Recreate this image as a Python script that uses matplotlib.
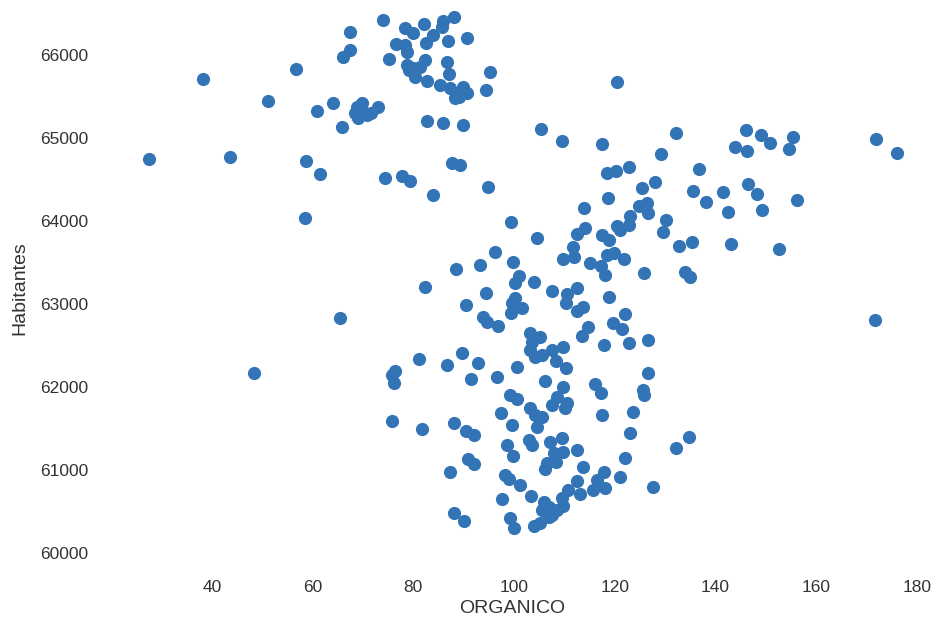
import numpy as np
import matplotlib
matplotlib.use("Agg")
import matplotlib.pyplot as plt

# ORGANICO vs Habitantes
organico = [
    27.5, 38.2, 43.7, 51.2, 56.8, 58.8, 61.5, 60.9, 64.1, 65.8,
    67.4, 67.4, 66.1, 68.8, 69.8, 68.4, 69.1, 70.8, 71.7, 73.1,
    70.1, 73.9, 78.4, 80.0, 82.1, 85.9, 88.0, 85.7, 84.0, 82.5,
    87.0, 90.6, 76.6, 78.4, 78.8, 75.1, 78.7, 79.2, 80.0, 80.4,
    81.4, 82.4, 82.8, 86.8, 87.2, 85.4, 87.3, 88.3, 89.9, 90.6,
    89.0, 89.6, 95.3, 94.5, 82.8, 85.9, 89.9, 87.6, 89.2, 74.4,
    77.7, 79.4, 84.0, 94.9, 120.5,
    105.4, 109.5, 117.5, 118.5, 120.3, 122.8, 125.4, 118.7, 114.0, 124.8,
    126.4, 126.7, 123.1, 122.8, 120.5, 121.0, 99.4, 114.2, 112.5, 104.6,
    117.5, 118.8, 111.8, 112.0, 109.8, 96.3, 99.9, 118.5, 119.8, 121.8,
    115.1, 117.3, 93.3,
    88.5, 82.3, 94.5, 90.5, 93.8, 94.7, 81.2, 86.7, 89.6, 92.8,
    91.5, 76.4, 75.7, 76.2, 75.7, 81.7, 88.0, 90.5, 92.0, 90.8,
    92.0, 87.3, 88.0, 90.0, 48.3, 58.5, 65.4,
    118.1, 125.8, 101.1, 100.2, 103.9, 107.5, 112.5, 110.6, 110.4, 118.8,
    113.8, 112.5, 100.2, 99.6, 101.6, 99.4, 122.1, 96.9, 119.7, 121.5,
    103.2, 105.1, 103.6, 114.8, 113.5, 117.8, 122.8, 126.7, 103.2, 104.2,
    105.5, 107.5, 109.7, 108.4, 110.4, 100.6, 96.6, 106.1, 116.1, 117.3,
    109.8, 125.7, 126.7, 99.2, 100.6, 108.5, 107.5, 110.6, 103.2, 125.9,
    104.2, 105.5, 104.6, 110.2, 97.4, 99.6, 117.5, 123.6, 123.0, 98.6,
    99.9, 102.9, 103.6, 107.2, 109.5, 107.9, 109.8, 112.5, 106.5, 106.2,
    108.4, 122.1, 113.8, 98.3, 99.1, 101.3, 112.5, 117.8, 116.5, 118.0,
    121.0, 115.7, 110.8, 109.5, 113.2, 103.3, 97.6, 105.9, 106.9, 105.5,
    107.5, 109.8, 108.5, 99.2, 100.0, 103.9, 105.2, 106.9, 127.7,
    132.2, 129.3, 146.0, 149.0, 150.8, 144.0, 146.3, 155.4, 154.6, 136.7,
    128.1, 135.5, 141.5, 146.4, 148.3, 138.1, 142.5, 149.3, 156.2, 130.3,
    129.7, 135.3, 132.8, 143.2, 152.6, 134.0, 135.0, 134.7, 132.2,
    172.0, 176.0, 171.8,
]

habitantes = [
    64747, 65715, 64775, 65450, 65835, 64723, 64562, 65330, 65425, 65136,
    66273, 66060, 65980, 65377, 65418, 65297, 65237, 65277, 65297, 65377,
    65317, 66422, 66322, 66265, 66374, 66413, 66454, 66341, 66241, 66148,
    66172, 66201, 66132, 66120, 66040, 65955, 65880, 65819, 65839, 65738,
    65859, 65940, 65690, 65919, 65771, 65638, 65598, 65478, 65618, 65538,
    65498, 65558, 65792, 65578, 65208, 65184, 65156, 64702, 64674, 64514,
    64542, 64485, 64313, 64413, 65675,
    65108, 64964, 64924, 64582, 64606, 64654, 64394, 64273, 64153, 64180,
    64213, 64093, 64060, 63952, 63940, 63891, 63984, 63919, 63843, 63799,
    63831, 63771, 63690, 63570, 63538, 63630, 63509, 63590, 63618, 63538,
    63490, 63458, 63470,
    63418, 63201, 63137, 62991, 62847, 62786, 62333, 62265, 62405, 62285,
    62096, 62196, 62144, 62051, 61593, 61493, 61562, 61473, 61421, 61128,
    61072, 60979, 60477, 60385, 62168, 64036, 62831,
    63349, 63370, 63337, 63249, 63268, 63160, 63189, 63120, 63008, 63088,
    62967, 62919, 63068, 63008, 62948, 62895, 62879, 62735, 62767, 62695,
    62654, 62598, 62545, 62726, 62614, 62506, 62526, 62566, 62445, 62365,
    62385, 62445, 62478, 62316, 62225, 62245, 62124, 62076, 62036, 61931,
    61996, 61963, 62164, 61903, 61851, 61883, 61783, 61803, 61743, 61903,
    61662, 61642, 61521, 61743, 61683, 61542, 61662, 61702, 61449, 61301,
    61168, 61361, 61301, 61333, 61381, 61200, 61220, 61240, 61080, 61008,
    61100, 61148, 61040, 60939, 60887, 60818, 60870, 60979, 60879, 60779,
    60911, 60759, 60759, 60658, 60706, 60686, 60646, 60618, 60558, 60518,
    60457, 60565, 60518, 60417, 60297, 60324, 60357, 60437, 60796,
    65064, 64803, 65096, 65036, 64943, 64895, 64847, 65016, 64867, 64626,
    64474, 64365, 64345, 64442, 64321, 64225, 64104, 64132, 64253, 64012,
    63864, 63750, 63702, 63722, 63659, 63389, 63329, 61401, 61261,
    64988, 64819, 62803,
]

x_ticks = [40, 60, 80, 100, 120, 140, 160, 180]
y_ticks = [60000, 61000, 62000, 63000, 64000, 65000, 66000]

plt.rcParams['font.family'] = ['Liberation Sans', 'DejaVu Sans']

fig = plt.figure(figsize=(9.33, 6.21), dpi=100)
ax = fig.add_axes([0.0997, 0.0741, 0.8985, 0.9243])

ax.scatter(organico, habitantes, s=90, color='#3274b6', linewidths=0)

ax.set_xlim(16.4, 182.9)
ax.set_ylim(59735, 66650)
ax.set_xticks(x_ticks)
ax.set_yticks(y_ticks)
ax.tick_params(length=0, labelsize=12.5, labelcolor='#333333', pad=3.5)

for s in ax.spines.values():
    s.set_visible(False)

ax.set_xlabel("ORGANICO", fontsize=14, color='#333333', labelpad=4)
ax.set_ylabel("Habitantes", fontsize=14, color='#333333', labelpad=8)

fig.savefig("out.png", dpi=100)
